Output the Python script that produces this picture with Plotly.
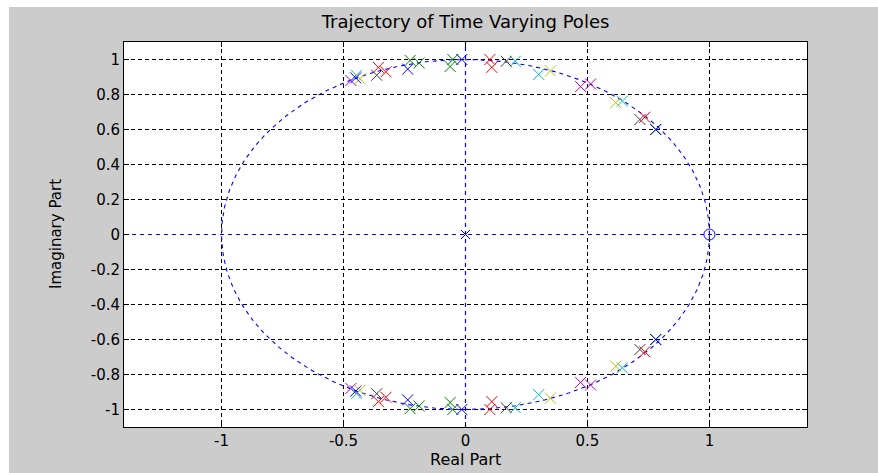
import numpy as np
import plotly.graph_objects as go

# Upper-half pole locations for each time step (conjugates are added below)
pole_colors = {
    "magenta": "rgb(191,0,191)",
    "cyan": "rgb(0,191,191)",
    "yellow": "rgb(191,191,0)",
    "gray": "rgb(64,64,64)",
    "red": "rgb(255,0,0)",
    "green": "rgb(0,128,0)",
    "blue": "rgb(0,0,255)",
}
poles_re = {
    "magenta": [-0.470, 0.472, 0.513],
    "cyan": [-0.447, 0.204, 0.300, 0.643],
    "yellow": [-0.433, 0.348, 0.616],
    "gray": [-0.364, 0.167, 0.715],
    "red": [-0.357, -0.326, 0.100, 0.108, 0.735],
    "green": [-0.227, -0.190, -0.063, -0.052, 0.780],
    "blue": [-0.450, -0.237, -0.015, 0.780],
}
poles_im = {
    "magenta": [0.880, 0.845, 0.860],
    "cyan": [0.910, 0.990, 0.915, 0.762],
    "yellow": [0.890, 0.935, 0.753],
    "gray": [0.910, 0.990, 0.657],
    "red": [0.955, 0.930, 1.000, 0.955, 0.670],
    "green": [0.995, 0.980, 0.960, 1.000, 0.600],
    "blue": [0.895, 0.945, 1.000, 0.600],
}
plot_order = ["magenta", "cyan", "yellow", "gray", "red", "green", "blue"]

# Fixed pole at the origin and zero at z = 1
fixed_pole = (0.0, 0.0)
fixed_zero = (1.0, 0.0)

x_range = [-1.4, 1.4]
y_range = [-1.1, 1.1]
x_ticks = [-1, -0.5, 0, 0.5, 1]
x_ticktext = ["-1", "-0.5", "0", "0.5", "1"]
y_ticks = [-1, -0.8, -0.6, -0.4, -0.2, 0, 0.2, 0.4, 0.6, 0.8, 1]
y_ticktext = ["-1", "-0.8", "-0.6", "-0.4", "-0.2", "0", "0.2", "0.4", "0.6", "0.8", "1"]

FONT = "DejaVu Sans"
BLUE = "rgb(0,0,255)"
DOTTED = "4px,4px"

W, H = 878, 473
ML, MR, MT, MB = 124, 71, 42, 46
PW, PH = W - ML - MR, H - MT - MB


def px_to_paper_x(px):
    return (px - ML) / PW


def px_to_paper_y(py):
    return (H - MB - py) / PH


fig = go.Figure()

# Real and imaginary axes as one broken polyline
axes_x = [x_range[0], x_range[1], None, 0, 0]
axes_y = [0, 0, None, y_range[0], y_range[1]]

# Blank out the grid under the axes, then draw them dotted in blue
fig.add_trace(go.Scatter(x=axes_x, y=axes_y, mode="lines",
                         line=dict(color="white", width=2),
                         hoverinfo="skip", showlegend=False))
fig.add_trace(go.Scatter(x=axes_x, y=axes_y, mode="lines",
                         line=dict(color=BLUE, width=1.2, dash=DOTTED),
                         hoverinfo="skip", showlegend=False))

# Unit circle
theta = np.linspace(0, 2 * np.pi, 400)
fig.add_trace(go.Scatter(x=np.cos(theta), y=np.sin(theta), mode="lines",
                         line=dict(color=BLUE, width=1.1, dash=DOTTED),
                         hoverinfo="skip", showlegend=False))

# Fixed pole and zero
fig.add_trace(go.Scatter(x=[fixed_pole[0]], y=[fixed_pole[1]], mode="markers",
                         marker=dict(symbol="x-thin-open", size=9, color=BLUE,
                                     line=dict(color=BLUE, width=1)),
                         showlegend=False))
fig.add_trace(go.Scatter(x=[fixed_zero[0]], y=[fixed_zero[1]], mode="markers",
                         marker=dict(symbol="circle-open", size=11, color=BLUE,
                                     line=dict(color=BLUE, width=1)),
                         showlegend=False))

# Time-varying poles with their complex conjugates
for name in plot_order:
    re = np.array(poles_re[name])
    im = np.array(poles_im[name])
    col = pole_colors[name]
    fig.add_trace(go.Scatter(
        x=np.concatenate([re, re]), y=np.concatenate([im, -im]),
        mode="markers",
        marker=dict(symbol="x-thin-open", size=11, color=col,
                    line=dict(color=col, width=1)),
        name=name, showlegend=False))

shapes = [
    # figure background panel
    dict(type="rect", xref="paper", yref="paper", layer="below",
         x0=px_to_paper_x(9), x1=px_to_paper_x(W + 2),
         y0=px_to_paper_y(H + 2), y1=px_to_paper_y(7),
         fillcolor="rgb(204,204,204)", line=dict(width=0)),
    # axes background
    dict(type="rect", xref="paper", yref="paper", layer="below",
         x0=0, x1=1, y0=0, y1=1, fillcolor="white", line=dict(width=0)),
]

annotations = [
    dict(text="Real Part", xref="paper", yref="paper",
         x=0.5, y=px_to_paper_y(460), xanchor="center", yanchor="middle",
         showarrow=False, font=dict(family=FONT, size=16, color="black")),
    dict(text="Imaginary Part", xref="paper", yref="paper",
         x=px_to_paper_x(56), y=px_to_paper_y(234), xanchor="center",
         yanchor="middle", textangle=-90, showarrow=False,
         font=dict(family=FONT, size=15, color="black")),
]

axis_common = dict(
    showgrid=True, gridcolor="black", gridwidth=1, griddash="4px,3px",
    zeroline=False, showline=True, linecolor="black", linewidth=1,
    mirror="ticks", ticks="inside", ticklen=5, tickcolor="black",
    tickfont=dict(family=FONT, size=15, color="black"),
)

fig.update_layout(
    width=W, height=H,
    margin=dict(l=ML, r=MR, t=MT, b=MB, pad=0),
    paper_bgcolor="white", plot_bgcolor="white",
    title=dict(text="Trajectory of Time Varying Poles", x=0.5, xref="paper",
               xanchor="center", y=1 - 22 / H, yanchor="middle",
               font=dict(family=FONT, size=18, color="black")),
    xaxis=dict(range=x_range, tickvals=x_ticks, ticktext=x_ticktext,
               **axis_common),
    yaxis=dict(range=y_range, tickvals=y_ticks, ticktext=y_ticktext,
               **axis_common),
    shapes=shapes, annotations=annotations, showlegend=False,
)

fig.write_html("out.html")
